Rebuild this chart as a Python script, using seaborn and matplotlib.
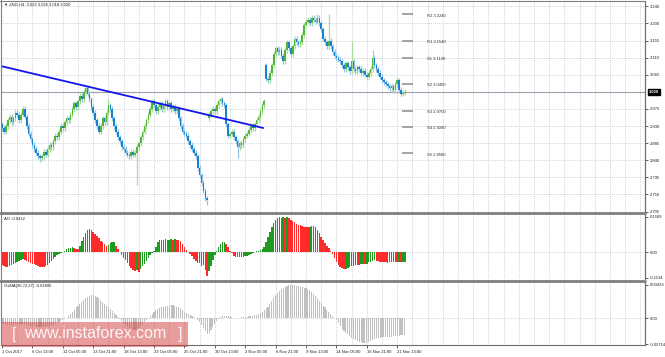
import numpy as np
import pandas as pd
import matplotlib
matplotlib.use("Agg")
import matplotlib.pyplot as plt
import matplotlib.transforms as mtrans
from matplotlib.patches import Rectangle
from matplotlib.lines import Line2D
import seaborn as sns

# ---------------- data ----------------
closes = [
    2.925, 2.915, 2.930, 2.945, 2.955, 2.940, 2.950, 2.965, 2.960, 2.945,
    2.960, 2.975, 2.955, 2.930, 2.910, 2.895, 2.880, 2.870, 2.860, 2.850,
    2.845, 2.850, 2.862, 2.855, 2.870, 2.880, 2.875, 2.890, 2.905, 2.900,
    2.915, 2.930, 2.925, 2.940, 2.950, 2.945, 2.960, 2.975, 2.990, 2.980,
    2.995, 3.010, 3.000, 3.020, 3.030, 3.015, 3.000, 2.980, 2.965, 2.945,
    2.930, 2.915, 2.930, 2.950, 2.940, 2.965, 2.985, 2.975, 2.950, 2.930,
    2.915, 2.900, 2.890, 2.875, 2.870, 2.860, 2.855, 2.850, 2.862, 2.855,
    2.860, 2.875, 2.885, 2.900, 2.915, 2.930, 2.945, 2.960, 2.975, 2.995,
    2.985, 2.970, 2.980, 2.990, 2.975, 2.985, 2.995, 2.980, 2.990, 2.975,
    2.980, 2.970, 2.975, 2.950, 2.930, 2.915, 2.910, 2.905, 2.890, 2.880,
    2.870, 2.860, 2.850, 2.820, 2.800, 2.780, 2.760, 2.740, 2.735, 2.960,
    2.970, 2.975, 2.970, 2.985, 2.995, 3.000, 2.990, 2.985, 2.935, 2.905,
    2.910, 2.915, 2.900, 2.890, 2.875, 2.885, 2.880, 2.895, 2.905, 2.910,
    2.920, 2.930, 2.925, 2.935, 2.945, 2.955, 2.970, 2.985, 2.995, 3.055,
    3.050, 3.070, 3.090, 3.120, 3.135, 3.125, 3.130, 3.115, 3.100, 3.130,
    3.150, 3.135, 3.120, 3.140, 3.160, 3.150, 3.145, 3.150, 3.170, 3.195,
    3.205, 3.210, 3.200, 3.215, 3.210, 3.205, 3.215, 3.200, 3.185, 3.160,
    3.150, 3.140, 3.155, 3.140, 3.125, 3.115, 3.110, 3.105, 3.100, 3.090,
    3.080, 3.095, 3.085, 3.075, 3.100, 3.080, 3.075, 3.085, 3.080, 3.070,
    3.075, 3.065, 3.060, 3.070, 3.080, 3.110, 3.090, 3.080, 3.070, 3.060,
    3.050, 3.045, 3.040, 3.035, 3.030, 3.035, 3.025, 3.040, 3.050, 3.025,
    3.015, 3.018, 3.020,
]
first_open = 2.935
gap_opens = {109: 2.950, 139: 3.090}
wick_highs = {44: 3.036, 56: 3.000, 115: 3.006, 139: 3.095, 166: 3.225,
              172: 3.225, 184: 3.155, 195: 3.130, 208: 3.060}
wick_lows = {20: 2.836, 71: 2.775, 108: 2.722, 124: 2.846}

ao_values = [
    -0.055, -0.060, -0.064, -0.066, -0.062, -0.057, -0.052, -0.047, -0.042, -0.037,
    -0.033, -0.030, -0.034, -0.038, -0.042, -0.046, -0.050, -0.054, -0.058, -0.061,
    -0.064, -0.066, -0.067, -0.062, -0.055, -0.047, -0.039, -0.031, -0.022, -0.014,
    -0.007, -0.002, 0.003, 0.008, 0.013, 0.018, 0.021, 0.022, 0.018, 0.016,
    0.015, 0.030, 0.050, 0.070, 0.088, 0.100, 0.104, 0.100, 0.092, 0.082,
    0.072, 0.062, 0.052, 0.044, 0.036, 0.030, 0.034, 0.040, 0.044, 0.045,
    0.030, 0.014, 0.000, -0.012, -0.024, -0.036, -0.048, -0.060, -0.070, -0.078,
    -0.083, -0.080, -0.086, -0.075, -0.062, -0.050, -0.038, -0.026, -0.014, -0.005,
    0.004, 0.025, 0.045, 0.057, 0.056, 0.057, 0.058, 0.056, 0.057, 0.058,
    0.057, 0.058, 0.056, 0.055, 0.050, 0.038, 0.025, 0.012, 0.002, -0.008,
    -0.018, -0.028, -0.038, -0.048, -0.046, -0.060, -0.058, -0.080, -0.105, -0.085,
    -0.060, -0.035, -0.012, 0.005, 0.022, 0.036, 0.045, 0.048, 0.038, 0.022,
    0.008, -0.005, -0.015, -0.020, -0.022, -0.022, -0.021, -0.020, -0.018, -0.015,
    -0.012, -0.008, -0.004, 0.000, 0.004, 0.008, 0.012, 0.016, 0.025, 0.045,
    0.070, 0.092, 0.112, 0.130, 0.145, 0.153, 0.157, 0.155, 0.156, 0.154,
    0.157, 0.152, 0.146, 0.140, 0.134, 0.128, 0.124, 0.120, 0.116, 0.115,
    0.113, 0.112, 0.114, 0.116, 0.118, 0.112, 0.100, 0.085, 0.070, 0.055,
    0.042, 0.030, 0.018, 0.006, -0.008, -0.025, -0.042, -0.056, -0.066, -0.072,
    -0.074, -0.073, -0.068, -0.064, -0.060, -0.061, -0.058, -0.055, -0.056, -0.053,
    -0.052, -0.054, -0.050, -0.045, -0.041, -0.038, -0.036, -0.037, -0.039, -0.041,
    -0.043, -0.044, -0.045, -0.046, -0.044, -0.045, -0.043, -0.044, -0.045, -0.043,
    -0.044, -0.042, -0.0412,
]

osma_values = [
    -0.005, -0.006, -0.006, -0.007, -0.007, -0.007, -0.007, -0.006, -0.006, -0.006,
    -0.006, -0.006, -0.006, -0.007, -0.007, -0.008, -0.008, -0.008, -0.009, -0.009,
    -0.009, -0.009, -0.009, -0.009, -0.008, -0.008, -0.007, -0.007, -0.006, -0.005,
    -0.004, -0.003, -0.002, -0.001, 0.000, 0.002, 0.004, 0.006, 0.008, 0.011,
    0.013, 0.015, 0.017, 0.019, 0.021, 0.022, 0.023, 0.024, 0.024, 0.023,
    0.022, 0.021, 0.019, 0.017, 0.015, 0.013, 0.011, 0.009, 0.007, 0.005,
    0.003, 0.001, -0.001, -0.003, -0.005, -0.007, -0.009, -0.010, -0.011, -0.012,
    -0.012, -0.011, -0.010, -0.008, -0.006, -0.004, -0.002, 0.000, 0.002, 0.004,
    0.006, 0.008, 0.009, 0.010, 0.011, 0.012, 0.013, 0.013, 0.014, 0.014,
    0.014, 0.013, 0.012, 0.011, 0.010, 0.008, 0.006, 0.005, 0.004, 0.003,
    0.002, 0.001, 0.000, -0.002, -0.004, -0.007, -0.010, -0.013, -0.017, -0.015,
    -0.012, -0.009, -0.006, -0.003, -0.001, 0.001, 0.002, 0.002, 0.002, 0.002,
    0.001, 0.001, 0.000, 0.000, 0.000, 0.000, 0.001, 0.001, 0.001, 0.001,
    0.002, 0.002, 0.002, 0.003, 0.003, 0.004, 0.005, 0.006, 0.008, 0.010,
    0.012, 0.015, 0.018, 0.021, 0.024, 0.026, 0.028, 0.030, 0.031, 0.032,
    0.033, 0.034, 0.034, 0.034, 0.034, 0.033, 0.033, 0.032, 0.032, 0.031,
    0.031, 0.030, 0.029, 0.027, 0.025, 0.023, 0.021, 0.018, 0.016, 0.013,
    0.011, 0.008, 0.006, 0.004, 0.002, 0.000, -0.002, -0.005, -0.008, -0.011,
    -0.013, -0.015, -0.017, -0.019, -0.021, -0.022, -0.023, -0.024, -0.025, -0.025,
    -0.026, -0.026, -0.026, -0.025, -0.024, -0.023, -0.022, -0.021, -0.021, -0.021,
    -0.020, -0.020, -0.020, -0.020, -0.020, -0.020, -0.019, -0.019, -0.019, -0.019,
    -0.018, -0.018, -0.018,
]

price_ticks = [3.246, 3.200, 3.155, 3.110, 3.065, 2.975, 2.930, 2.885, 2.840, 2.795, 2.750, 2.705]
price_tick_labels = ["3.246", "3.200", "3.155", "3.110", "3.065", "2.975", "2.930",
                     "2.885", "2.840", "2.795", "2.750", "2.705"]
last_price = 3.020
last_price_label = "3.020"
header_text = "\u25bc #NG,H4  3.022 3.026 3.018 3.020"

x_labels = ["1 Oct 2017", "6 Oct 13:00", "11 Oct 05:00", "13 Oct 21:00", "18 Oct 13:00",
            "23 Oct 05:00", "25 Oct 21:00", "30 Oct 13:00", "2 Nov 05:00", "6 Nov 21:00",
            "9 Nov 13:00", "14 Nov 05:00", "16 Nov 21:00", "21 Nov 13:00"]
x_label_positions = [0, 16, 32, 48, 64, 80, 96, 112, 128, 144, 160, 176, 192, 208]

pivot_names = ["R2", "R1", "S1", "S2", "S3", "S4", "S5"]
pivot_values = [3.2240, 3.1540, 3.1100, 3.0400, 2.9700, 2.9280, 2.8580]

trend_x = [-0.6, 137.5]
trend_y = [3.088, 2.925]

ao_ticks = [0.1589, 0.0, -0.1134]
ao_tick_labels = ["0.1589", "0.00", "-0.1134"]
ao_title = "AO -0.0412"
osma_ticks = [0.03433, 0.0, -0.02714]
osma_tick_labels = ["0.03433", "0.00", "-0.02714"]
osma_title = "OsMA(36,72,27) -0.01800"

# ---------------- build table ----------------
n = len(closes)
idx = np.arange(n)
opens = [first_open] + closes[:-1]
for k, v in gap_opens.items():
    opens[k] = v
df = pd.DataFrame({"i": idx, "open": opens, "close": closes,
                   "ao": ao_values, "osma": osma_values})
df["high"] = df[["open", "close"]].max(axis=1) + 0.007
df["low"] = df[["open", "close"]].min(axis=1) - 0.007
for k, v in wick_highs.items():
    df.loc[k, "high"] = v
for k, v in wick_lows.items():
    df.loc[k, "low"] = v
df["up"] = df["close"] >= df["open"]
ao_prev = df["ao"].shift(1)
df["ao_up"] = df["ao"] > ao_prev

# ---------------- figure ----------------
sns.set_style("white")
plt.rcParams["font.family"] = ["Liberation Sans", "DejaVu Sans"]

W, H = 665, 357
fig = plt.figure(figsize=(W / 100, H / 100), dpi=100)
fig.patch.set_facecolor("white")


def rect(x0, y0, x1, y1):
    return [x0 / W, 1 - y1 / H, (x1 - x0) / W, (y1 - y0) / H]


ax_main = fig.add_axes(rect(1, 1, 645, 212))
ax_ao = fig.add_axes(rect(1, 214, 645, 279))
ax_os = fig.add_axes(rect(1, 282, 645, 345))

x0, x1 = -0.53, 338.4
FS = 3.0
grid_c = "#b4bccb"
grid_ls = (0, (1.2, 1.6))

for ax in (ax_main, ax_ao, ax_os):
    ax.set_xlim(x0, x1)
    ax.set_facecolor("white")
    for s in ("left", "top", "bottom"):
        ax.spines[s].set_visible(False)
    ax.spines["right"].set_color("#6e6e6e")
    ax.spines["right"].set_linewidth(0.9)
    ax.yaxis.tick_right()
    ax.tick_params(axis="y", direction="out", length=2, width=0.5, pad=1.2,
                   labelsize=FS, colors="#202020")
    ax.tick_params(axis="x", bottom=False, labelbottom=False)
    for gx in range(8, 340, 8):
        ax.axvline(gx, color=grid_c, lw=0.5, ls=grid_ls, zorder=0)

# main price panel
ax_main.set_ylim(2.7039, 3.2592)
for p in price_ticks:
    ax_main.axhline(p, color=grid_c, lw=0.5, ls=grid_ls, zorder=0)
ax_main.set_yticks(price_ticks)
ax_main.set_yticklabels(price_tick_labels)
ax_main.axhline(last_price, color="#9aa3ad", lw=0.8, zorder=1)

up_body, up_wick = "#52b536", "#a9dc98"
dn_body, dn_wick = "#1883cc", "#94c6ea"
wick_cols = np.where(df["up"], up_wick, dn_wick)
body_cols = np.where(df["up"], up_body, dn_body)
ax_main.vlines(df["i"], df["low"], df["high"], colors=wick_cols, lw=0.9, zorder=2)
body_bottom = df[["open", "close"]].min(axis=1)
body_h = (df["close"] - df["open"]).abs().clip(lower=0.003)
ax_main.bar(df["i"], body_h, bottom=body_bottom, width=0.85, color=body_cols,
            linewidth=0, zorder=3)

sns.lineplot(x=trend_x, y=trend_y, ax=ax_main, color="#1414f0", lw=1.3,
             legend=False, zorder=4)

for name, val in zip(pivot_names, pivot_values):
    ax_main.hlines(val, 210.5, 216.5, color="#8a8a8a", lw=1.1, zorder=3)
    ax_main.text(223.5, val - 0.003, f"{name} {val:.4f}", fontsize=FS,
                 color="#303030", va="center", ha="left")

blend = mtrans.blended_transform_factory(ax_main.transAxes, ax_main.transData)
ax_main.text(1.006, last_price, last_price_label, transform=blend, fontsize=FS,
             color="white", va="center", ha="left", fontweight="bold",
             bbox=dict(boxstyle="square,pad=0.3", fc="black", ec="black"))

# AO panel
ax_ao.set_ylim(-0.119, 0.171)
ax_ao.axhline(0, color=grid_c, lw=0.5, ls=grid_ls, zorder=0)
ao_cols = np.where(df["ao_up"], "#1e9a1e", "#ff2a2a")
ax_ao.bar(df["i"], df["ao"], width=0.8, color=ao_cols, linewidth=0, zorder=2)
ax_ao.set_yticks(ao_ticks)
ax_ao.set_yticklabels(ao_tick_labels)
ax_ao.text(0.005, 0.93, ao_title, transform=ax_ao.transAxes, fontsize=FS,
           color="#202020", va="center", ha="left")

# OsMA panel
ax_os.set_ylim(-0.0279, 0.0374)
ax_os.axhline(0, color=grid_c, lw=0.5, ls=grid_ls, zorder=0)
ax_os.bar(df["i"], df["osma"], width=0.6, color="#c0c0c0", linewidth=0, zorder=2)
ax_os.set_yticks(osma_ticks)
ax_os.set_yticklabels(osma_tick_labels)
ax_os.text(0.005, 0.93, osma_title, transform=ax_os.transAxes, fontsize=FS,
           color="#202020", va="center", ha="left")
ax_os.spines["bottom"].set_visible(True)
ax_os.spines["bottom"].set_color("#6e6e6e")
ax_os.spines["bottom"].set_linewidth(0.8)
ax_os.set_xticks(x_label_positions)
ax_os.set_xticklabels(x_labels, ha="left")
ax_os.tick_params(axis="x", bottom=True, labelbottom=True, direction="out",
                  length=2, width=0.5, pad=1.5, labelsize=FS, colors="#202020")

# separators and borders
for yy in (213, 280.5):
    fig.add_artist(Line2D([0, 645 / W], [1 - yy / H, 1 - yy / H], color="#7f7f7f",
                          lw=2.0, transform=fig.transFigure))
fig.add_artist(Line2D([0.5 / W, 0.5 / W], [1 - 345 / H, 1], color="#7f7f7f", lw=0.8,
                      transform=fig.transFigure))
fig.add_artist(Line2D([0, 645 / W], [1 - 0.7 / H, 1 - 0.7 / H], color="#7f7f7f", lw=0.8,
                      transform=fig.transFigure))

# header
fig.text(4 / W, 1 - 5 / H, header_text, fontsize=FS, color="#202020", va="center",
         ha="left")

# watermark
fig.add_artist(Rectangle((2 / W, 1 - 347 / H), 186 / W, 25 / H, transform=fig.transFigure,
                         facecolor="#d23a3a", alpha=0.5, linewidth=0, zorder=10))
fig.text(12 / W, 1 - 334 / H, "[", fontsize=12, color="white", alpha=0.85, va="center",
         ha="left", zorder=11, fontweight="light")
fig.text(95 / W, 1 - 334 / H, "www.instaforex.com", fontsize=11.5, color="white",
         alpha=0.9, va="center", ha="center", zorder=11)
fig.text(178 / W, 1 - 334 / H, "]", fontsize=12, color="white", alpha=0.85, va="center",
         ha="left", zorder=11, fontweight="light")

fig.savefig("out.png", dpi=100)
